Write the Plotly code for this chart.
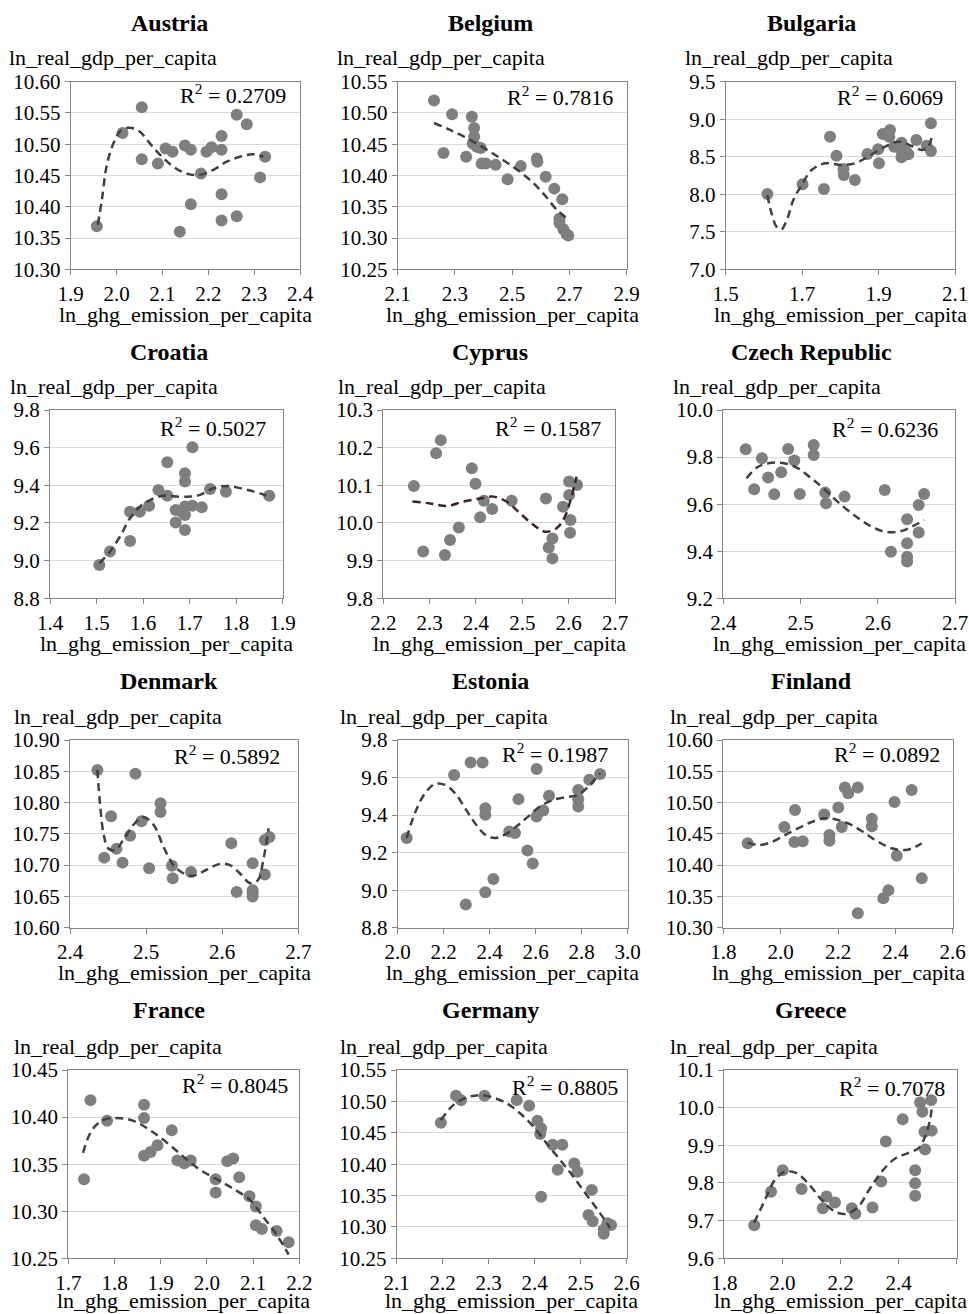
import plotly.graph_objects as go

W, H = 969, 1314

countries = ["Austria", "Belgium", "Bulgaria", "Croatia", "Cyprus", "Czech Republic",
             "Denmark", "Estonia", "Finland", "France", "Germany", "Greece"]
r_squared = ["0.2709", "0.7816", "0.6069", "0.5027", "0.1587", "0.6236",
             "0.5892", "0.1987", "0.0892", "0.8045", "0.8805", "0.7078"]
x_label = "ln_ghg_emission_per_capita"
y_label = "ln_real_gdp_per_capita"

# ---------------- data ----------------
austria_x = [1.957, 2.013, 2.055, 2.055, 2.090, 2.107, 2.122, 2.149, 2.162, 2.162, 2.138, 2.184,
             2.196, 2.207, 2.229, 2.229, 2.229, 2.229, 2.262, 2.284, 2.262, 2.313, 2.324]
austria_y = [10.369, 10.518, 10.559, 10.476, 10.469, 10.493, 10.488, 10.498, 10.491, 10.404, 10.360,
             10.453, 10.488, 10.495, 10.513, 10.491, 10.420, 10.378, 10.547, 10.532, 10.385, 10.447, 10.480]
austria_fit_x = [1.959, 1.968, 1.978, 1.993, 2.011, 2.033, 2.051, 2.073, 2.095, 2.124, 2.153, 2.182,
                 2.211, 2.240, 2.269, 2.298, 2.320]
austria_fit_y = [10.371, 10.411, 10.464, 10.501, 10.523, 10.526, 10.520, 10.501, 10.483, 10.464, 10.453,
                 10.451, 10.459, 10.472, 10.480, 10.484, 10.480]

belgium_x = [2.227, 2.290, 2.260, 2.359, 2.367, 2.367, 2.362, 2.376, 2.390, 2.339, 2.393, 2.408, 2.442,
             2.484, 2.530, 2.586, 2.588, 2.617, 2.647, 2.675, 2.665, 2.665, 2.679, 2.690, 2.696]
belgium_y = [10.520, 10.498, 10.436, 10.494, 10.476, 10.462, 10.451, 10.446, 10.444, 10.430, 10.419,
             10.419, 10.417, 10.394, 10.415, 10.427, 10.422, 10.398, 10.379, 10.362, 10.331, 10.324,
             10.314, 10.306, 10.304]
belgium_fit_x = [2.227, 2.283, 2.353, 2.423, 2.493, 2.562, 2.609, 2.656, 2.693]
belgium_fit_y = [10.484, 10.473, 10.457, 10.438, 10.417, 10.393, 10.371, 10.345, 10.331]

bulgaria_x = [1.609, 1.701, 1.757, 1.773, 1.790, 1.808, 1.809, 1.838, 1.871, 1.899, 1.901, 1.911,
              1.930, 1.928, 1.941, 1.960, 1.959, 1.960, 1.973, 1.978, 1.999, 2.026, 2.037, 2.037]
bulgaria_y = [8.004, 8.132, 8.070, 8.767, 8.514, 8.337, 8.257, 8.190, 8.536, 8.599, 8.412, 8.803,
              8.856, 8.767, 8.634, 8.687, 8.590, 8.492, 8.568, 8.532, 8.723, 8.648, 8.945, 8.577]
bulgaria_fit_x = [1.609, 1.620, 1.633, 1.646, 1.660, 1.677, 1.699, 1.725, 1.760, 1.803, 1.838, 1.873,
                  1.917, 1.952, 1.987, 2.013, 2.030, 2.039]
bulgaria_fit_y = [7.990, 7.746, 7.569, 7.533, 7.657, 7.924, 8.124, 8.323, 8.412, 8.390, 8.412, 8.501,
                  8.634, 8.701, 8.643, 8.590, 8.634, 8.767]

croatia_x = [1.506, 1.529, 1.572, 1.572, 1.593, 1.613, 1.633, 1.652, 1.652, 1.670, 1.670, 1.683,
             1.690, 1.690, 1.690, 1.690, 1.690, 1.706, 1.706, 1.726, 1.744, 1.778, 1.871]
croatia_y = [8.977, 9.048, 9.104, 9.260, 9.260, 9.292, 9.375, 9.522, 9.345, 9.269, 9.202, 9.260,
             9.287, 9.242, 9.163, 9.464, 9.420, 9.602, 9.292, 9.283, 9.381, 9.366, 9.345]
croatia_fit_x = [1.506, 1.529, 1.550, 1.572, 1.593, 1.615, 1.643, 1.672, 1.701, 1.722, 1.751, 1.779,
                 1.808, 1.837, 1.858, 1.871]
croatia_fit_y = [8.986, 9.048, 9.127, 9.225, 9.287, 9.322, 9.345, 9.340, 9.340, 9.349, 9.384, 9.397,
                 9.385, 9.368, 9.352, 9.335]

cyprus_x = [2.266, 2.286, 2.314, 2.324, 2.333, 2.344, 2.363, 2.391, 2.399, 2.409, 2.417, 2.435,
            2.477, 2.551, 2.557, 2.565, 2.565, 2.588, 2.601, 2.601, 2.604, 2.603, 2.618]
cyprus_y = [10.098, 9.924, 10.185, 10.220, 9.915, 9.955, 9.988, 10.145, 10.104, 10.015, 10.059, 10.037,
            10.059, 10.065, 9.935, 9.959, 9.906, 10.043, 10.110, 10.074, 10.008, 9.974, 10.101]
cyprus_fit_x = [2.263, 2.301, 2.337, 2.373, 2.409, 2.437, 2.466, 2.495, 2.524, 2.549, 2.574, 2.592,
                2.607, 2.617]
cyprus_fit_y = [10.057, 10.052, 10.045, 10.057, 10.065, 10.070, 10.057, 10.026, 9.995, 9.977, 9.986,
                10.017, 10.074, 10.123]

czech_x = [2.429, 2.440, 2.450, 2.458, 2.466, 2.475, 2.484, 2.492, 2.499, 2.517, 2.517, 2.532,
           2.533, 2.557, 2.609, 2.617, 2.638, 2.638, 2.638, 2.638, 2.653, 2.653, 2.660]
czech_y = [9.833, 9.663, 9.795, 9.713, 9.642, 9.735, 9.834, 9.785, 9.643, 9.851, 9.809, 9.649,
           9.604, 9.632, 9.660, 9.398, 9.536, 9.434, 9.377, 9.356, 9.480, 9.596, 9.643]
czech_fit_x = [2.430, 2.445, 2.463, 2.480, 2.497, 2.514, 2.532, 2.553, 2.575, 2.592, 2.609, 2.627,
               2.644, 2.660]
czech_fit_y = [9.710, 9.759, 9.776, 9.773, 9.752, 9.710, 9.660, 9.596, 9.540, 9.504, 9.483, 9.483,
               9.504, 9.533]

denmark_x = [2.436, 2.445, 2.454, 2.461, 2.469, 2.479, 2.486, 2.494, 2.504, 2.519, 2.519, 2.534,
             2.535, 2.559, 2.612, 2.619, 2.640, 2.640, 2.640, 2.640, 2.656, 2.656, 2.662]
denmark_y = [10.852, 10.712, 10.778, 10.726, 10.704, 10.747, 10.846, 10.770, 10.695, 10.799, 10.785,
             10.699, 10.679, 10.689, 10.735, 10.657, 10.703, 10.660, 10.655, 10.650, 10.685, 10.740, 10.745]
denmark_fit_x = [2.436, 2.439, 2.444, 2.450, 2.459, 2.470, 2.483, 2.496, 2.510, 2.523, 2.536, 2.549,
                 2.562, 2.580, 2.597, 2.610, 2.623, 2.637, 2.647, 2.654, 2.661]
denmark_fit_y = [10.852, 10.804, 10.751, 10.727, 10.724, 10.740, 10.764, 10.777, 10.764, 10.729, 10.700,
                 10.687, 10.683, 10.693, 10.702, 10.700, 10.687, 10.671, 10.676, 10.708, 10.759]

estonia_x = [2.039, 2.245, 2.317, 2.369, 2.296, 2.381, 2.416, 2.381, 2.381, 2.485, 2.510, 2.525,
             2.564, 2.587, 2.604, 2.604, 2.633, 2.658, 2.785, 2.785, 2.785, 2.833, 2.880]
estonia_y = [9.278, 9.614, 9.680, 9.680, 8.924, 8.989, 9.060, 9.437, 9.402, 9.313, 9.304, 9.485,
             9.211, 9.142, 9.645, 9.393, 9.425, 9.503, 9.534, 9.485, 9.446, 9.588, 9.619]
estonia_fit_x = [2.039, 2.075, 2.119, 2.162, 2.206, 2.249, 2.293, 2.336, 2.380, 2.423, 2.467, 2.517,
                 2.568, 2.619, 2.677, 2.735, 2.785, 2.836, 2.880]
estonia_fit_y = [9.278, 9.411, 9.517, 9.566, 9.561, 9.517, 9.437, 9.357, 9.296, 9.278, 9.296, 9.340,
                 9.393, 9.446, 9.481, 9.496, 9.508, 9.561, 9.623]

finland_x = [1.885, 2.013, 2.050, 2.048, 2.077, 2.170, 2.170, 2.152, 2.201, 2.213, 2.224, 2.236,
             2.269, 2.269, 2.318, 2.318, 2.358, 2.376, 2.397, 2.405, 2.457, 2.492]
finland_y = [10.435, 10.461, 10.488, 10.437, 10.438, 10.448, 10.439, 10.481, 10.492, 10.461, 10.524,
             10.515, 10.524, 10.323, 10.474, 10.462, 10.347, 10.360, 10.501, 10.415, 10.520, 10.379]
finland_fit_x = [1.885, 1.922, 1.969, 2.015, 2.062, 2.108, 2.155, 2.201, 2.248, 2.294, 2.341, 2.387,
                 2.434, 2.469, 2.492]
finland_fit_y = [10.436, 10.432, 10.437, 10.448, 10.459, 10.469, 10.475, 10.472, 10.464, 10.451, 10.437,
                 10.427, 10.424, 10.429, 10.435]

france_x = [1.734, 1.748, 1.784, 1.864, 1.864, 1.864, 1.878, 1.893, 1.924, 1.936, 1.951, 1.965,
            2.019, 2.019, 2.044, 2.057, 2.070, 2.092, 2.106, 2.106, 2.119, 2.151, 2.177]
france_y = [10.334, 10.418, 10.396, 10.413, 10.399, 10.359, 10.363, 10.370, 10.386, 10.354, 10.351,
            10.354, 10.334, 10.320, 10.353, 10.356, 10.336, 10.316, 10.305, 10.285, 10.281, 10.279, 10.267]
france_fit_x = [1.732, 1.751, 1.776, 1.805, 1.841, 1.877, 1.913, 1.949, 1.985, 2.021, 2.057, 2.093,
                2.122, 2.151, 2.177]
france_fit_y = [10.362, 10.386, 10.397, 10.399, 10.396, 10.386, 10.373, 10.358, 10.344, 10.334, 10.324,
                10.312, 10.294, 10.275, 10.254]

germany_x = [2.196, 2.229, 2.240, 2.291, 2.361, 2.388, 2.406, 2.414, 2.412, 2.414, 2.439, 2.460,
             2.450, 2.486, 2.493, 2.524, 2.517, 2.526, 2.550, 2.550, 2.558, 2.566]
germany_y = [10.466, 10.509, 10.502, 10.509, 10.502, 10.493, 10.469, 10.457, 10.448, 10.348, 10.431,
             10.431, 10.391, 10.401, 10.388, 10.359, 10.319, 10.309, 10.296, 10.289, 10.306, 10.303]
germany_fit_x = [2.196, 2.223, 2.252, 2.281, 2.310, 2.339, 2.368, 2.397, 2.426, 2.455, 2.484, 2.513,
                 2.542, 2.564]
germany_fit_y = [10.470, 10.494, 10.506, 10.510, 10.506, 10.497, 10.481, 10.460, 10.433, 10.407, 10.380,
                 10.351, 10.322, 10.298]

greece_x = [1.903, 1.961, 2.001, 2.066, 2.139, 2.152, 2.181, 2.239, 2.251, 2.310, 2.340, 2.356,
            2.414, 2.457, 2.457, 2.457, 2.474, 2.482, 2.489, 2.491, 2.512, 2.514]
greece_y = [9.688, 9.777, 9.834, 9.784, 9.733, 9.764, 9.748, 9.733, 9.718, 9.735, 9.804, 9.910,
            9.969, 9.834, 9.799, 9.766, 10.014, 9.989, 9.936, 9.889, 10.020, 9.939]
greece_fit_x = [1.903, 1.940, 1.974, 2.009, 2.049, 2.089, 2.135, 2.181, 2.221, 2.261, 2.302, 2.342,
                2.388, 2.434, 2.468, 2.491, 2.508, 2.514]
greece_fit_y = [9.695, 9.755, 9.808, 9.830, 9.826, 9.799, 9.755, 9.724, 9.718, 9.737, 9.786, 9.830,
                9.865, 9.880, 9.892, 9.923, 9.967, 9.998]

# x axis: (min, max, step); y axis: (min, max, step, decimals)
x_axes = [(1.9, 2.4, 0.1), (2.1, 2.9, 0.2), (1.5, 2.1, 0.2), (1.4, 1.9, 0.1), (2.2, 2.7, 0.1),
          (2.4, 2.7, 0.1), (2.4, 2.7, 0.1), (2.0, 3.0, 0.2), (1.8, 2.6, 0.2), (1.7, 2.2, 0.1),
          (2.1, 2.6, 0.1), (1.8, 2.6, 0.2)]
y_axes = [(10.30, 10.60, 0.05, 2), (10.25, 10.55, 0.05, 2), (7.0, 9.5, 0.5, 1), (8.8, 9.8, 0.2, 1),
          (9.8, 10.3, 0.1, 1), (9.2, 10.0, 0.2, 1), (10.60, 10.90, 0.05, 2), (8.8, 9.8, 0.2, 1),
          (10.30, 10.60, 0.05, 2), (10.25, 10.45, 0.05, 2), (10.25, 10.55, 0.05, 2), (9.6, 10.1, 0.1, 1)]

series = [
    (austria_x, austria_y, austria_fit_x, austria_fit_y),
    (belgium_x, belgium_y, belgium_fit_x, belgium_fit_y),
    (bulgaria_x, bulgaria_y, bulgaria_fit_x, bulgaria_fit_y),
    (croatia_x, croatia_y, croatia_fit_x, croatia_fit_y),
    (cyprus_x, cyprus_y, cyprus_fit_x, cyprus_fit_y),
    (czech_x, czech_y, czech_fit_x, czech_fit_y),
    (denmark_x, denmark_y, denmark_fit_x, denmark_fit_y),
    (estonia_x, estonia_y, estonia_fit_x, estonia_fit_y),
    (finland_x, finland_y, finland_fit_x, finland_fit_y),
    (france_x, france_y, france_fit_x, france_fit_y),
    (germany_x, germany_y, germany_fit_x, germany_fit_y),
    (greece_x, greece_y, greece_fit_x, greece_fit_y),
]

# ---------------- layout (pixel boxes of plot areas) ----------------
row_tops = [81.7, 410.0, 740.0, 1070.0]
row_bottoms = [269.3, 598.3, 927.7, 1258.3]
col_spans = [
    [(70.7, 300.0), (397.7, 626.7), (725.7, 955.0)],
    [(50.0, 282.7), (383.3, 615.0), (723.3, 955.0)],
    [(70.0, 298.3), (397.7, 627.7), (723.3, 952.7)],
    [(68.3, 299.3), (396.7, 626.7), (724.3, 956.7)],
]
title_cx = [169, 490, 811]
title_cy = [23, 352, 681, 1010]
ytitle_left = [[7, 335, 683], [8, 336, 671], [12, 338, 668], [12, 338, 668]]
ytitle_cy = [57, 386, 716, 1046]
r2_right_pad = [12, 12, 10, 15, 12, 15, 16, 18, 11, 9, 7, 10]
r2_down = [12, 14, 14, 17, 17, 18, 15, 13, 13, 14, 16, 17]

FONT = "Liberation Serif"
AX = "#868686"
GRID = "#d9d9d9"
DOT = "#7f7f7f"
TREND = "#404040"


def px_x(v):
    return v / W


def px_y(v):
    return 1 - v / H


fig = go.Figure()
layout = dict(
    template="none",
    width=W, height=H, autosize=False, margin=dict(l=0, r=0, t=0, b=0, pad=0, autoexpand=False),
    paper_bgcolor="white", plot_bgcolor="white", showlegend=False,
    font=dict(family=FONT, size=22, color="#000000"),
)
annotations = []

for i, name in enumerate(countries):
    r, c = divmod(i, 3)
    x0, x1 = col_spans[r][c]
    top, bot = row_tops[r], row_bottoms[r]
    sfx = "" if i == 0 else str(i + 1)
    xa, ya = "x" + sfx, "y" + sfx
    xs, ys, fx, fy = series[i]

    fig.add_trace(go.Scatter(x=xs, y=ys, mode="markers", xaxis=xa, yaxis=ya,
                             marker=dict(size=12, color=DOT, line=dict(width=0)),
                             hoverinfo="x+y"))
    trend_col = "#3d2329" if name == "Cyprus" else TREND
    fig.add_trace(go.Scatter(x=fx, y=fy, mode="lines", xaxis=xa, yaxis=ya,
                             line=dict(color=trend_col, width=2.5, dash="8px,5px", shape="spline",
                                       smoothing=1.0),
                             hoverinfo="skip"))

    xmin, xmax, xstep = x_axes[i]
    ymin, ymax, ystep, ydec = y_axes[i]
    layout["xaxis" + sfx] = dict(
        domain=[px_x(x0), px_x(x1)], anchor=ya, range=[xmin, xmax], automargin=False,
        tick0=xmin, dtick=xstep, tickformat=".1f",
        showgrid=False, zeroline=False, showline=True, linecolor=AX, linewidth=1, mirror=True,
        ticks="outside", ticklen=5, tickcolor=AX, tickwidth=1,
        tickfont=dict(family=FONT, size=21, color="#000"), ticklabelstandoff=0,
    )
    layout["yaxis" + sfx] = dict(
        domain=[px_y(bot), px_y(top)], anchor=xa, range=[ymin, ymax], automargin=False,
        tick0=ymin, dtick=ystep, tickformat=".%df" % ydec,
        showgrid=True, gridcolor=GRID, gridwidth=1, zeroline=False,
        showline=True, linecolor=AX, linewidth=1, mirror=True,
        ticks="outside", ticklen=5, tickcolor=AX, tickwidth=1,
        tickfont=dict(family=FONT, size=21, color="#000"),
    )

    annotations.append(dict(text="<b>%s</b>" % name, x=px_x(title_cx[c]), y=px_y(title_cy[r]),
                            xref="paper", yref="paper", xanchor="center", yanchor="middle",
                            showarrow=False, font=dict(family=FONT, size=24, color="#000")))
    annotations.append(dict(text=y_label, x=px_x(ytitle_left[r][c]), y=px_y(ytitle_cy[r]),
                            xref="paper", yref="paper", xanchor="left", yanchor="middle",
                            showarrow=False, font=dict(family=FONT, size=22, color="#000")))
    xt_y = min(bot + 45, H - 14)
    annotations.append(dict(text=x_label, x=px_x((x0 + x1) / 2), y=px_y(xt_y),
                            xref="paper", yref="paper", xanchor="center", yanchor="middle",
                            showarrow=False, font=dict(family=FONT, size=22, color="#000")))
    annotations.append(dict(text="R<sup>2</sup> = %s" % r_squared[i],
                            x=px_x(x1 - r2_right_pad[i]), y=px_y(top + r2_down[i]),
                            xref="paper", yref="paper", xanchor="right", yanchor="middle",
                            showarrow=False, font=dict(family=FONT, size=22, color="#000")))

layout["annotations"] = annotations
fig.update_layout(**layout)
fig.write_html("out.html")
